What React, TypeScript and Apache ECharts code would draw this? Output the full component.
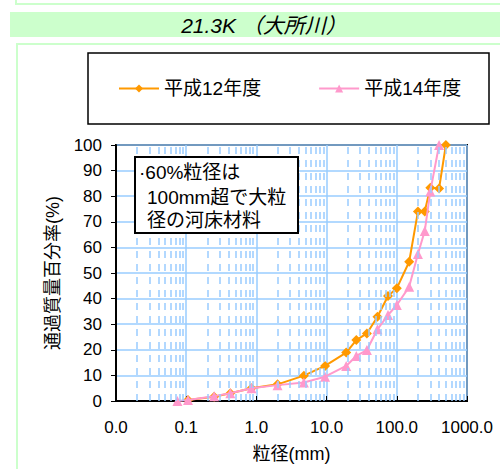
import React, { useEffect, useRef } from "react";
import * as echarts from "echarts";

// 平成12年度 (orange)
const sieve12 = [0.106, 0.25, 0.425, 0.85, 2, 4.75, 9.5, 19, 26.5, 37.5, 53, 75, 100, 150, 200, 250, 300, 400, 500];
const pass12 = [0.4, 1.7, 3.0, 5.0, 6.5, 9.9, 13.7, 18.9, 23.8, 26.4, 32.9, 41.0, 44.0, 54.4, 74.0, 74.0, 83.3, 83.0, 100];
// 平成14年度 (pink)
const sieve14 = [0.075, 0.106, 0.25, 0.425, 0.85, 2, 4.75, 9.5, 19, 26.5, 37.5, 53, 75, 100, 150, 200, 250, 300, 400];
const pass14 = [0.0, 0.4, 1.9, 3.0, 5.0, 6.2, 7.2, 9.5, 13.7, 17.6, 19.9, 28.0, 33.6, 37.5, 44.6, 57.4, 66.4, 81.8, 100];

const seriesNames = ["平成12年度", "平成14年度"];
const titleText = "21.3K （大所川）";
const noteLines = ["·60%粒径は", "100mm超で大粒", "径の河床材料"];
const xAxisName = "粒径(mm)";
const yAxisName = "通過質量百分率(%)";
const decades = [0.01, 0.1, 1, 10, 100];
const minorMultipliers = [2, 3, 4, 5, 6, 7, 8, 9];

const FONT = "'Liberation Sans', Arial, 'Noto Sans CJK JP', sans-serif";

export default function App() {
  const ref = useRef<HTMLDivElement>(null);
  useEffect(() => {
    if (!ref.current) return;
    const chart = echarts.init(ref.current, undefined, { renderer: "svg" });
    const minorX: number[] = [];
    decades.forEach((d) => minorMultipliers.forEach((m) => minorX.push(+(d * m).toPrecision(3))));
    const green = "#ccffcc";
    const grid = "#99ccff";
    chart.setOption({
      animation: false,
      backgroundColor: "#ffffff",
      textStyle: { fontFamily: FONT },
      grid: { left: 116, top: 145, right: 33, bottom: 68, show: true, borderColor: "#000", borderWidth: 2, containLabel: false },
      legend: {
        data: [
          { name: seriesNames[0] },
          { name: seriesNames[1] },
        ],
        left: 118,
        top: 79,
        padding: 0,
        itemWidth: 40,
        itemHeight: 10,
        itemGap: 57,
        textStyle: { fontSize: 19, color: "#000", fontFamily: FONT },
      },
      xAxis: {
        type: "log",
        logBase: 10,
        min: 0.01,
        max: 1000,
        name: xAxisName,
        nameLocation: "middle",
        nameGap: 44,
        nameTextStyle: { fontSize: 18, color: "#000", fontFamily: FONT },
        axisLine: { show: true, lineStyle: { color: "#000", width: 2 } },
        axisTick: { show: true, inside: true, length: 5, lineStyle: { color: "#000", width: 1 } },
        axisLabel: { color: "#000", fontSize: 17, margin: 18, formatter: (v: number) => v.toFixed(1) },
        splitLine: { show: true, lineStyle: { color: grid, width: 1.5 } },
      },
      yAxis: {
        type: "value",
        min: 0,
        max: 100,
        interval: 10,
        name: yAxisName,
        nameLocation: "middle",
        nameGap: 54,
        nameTextStyle: { fontSize: 18, color: "#000", fontFamily: FONT },
        axisLine: { show: true, lineStyle: { color: "#000", width: 2 } },
        axisTick: { show: true, inside: false, length: 5, lineStyle: { color: "#000", width: 1 } },
        axisLabel: { color: "#000", fontSize: 17, margin: 14 },
        splitLine: { show: true, lineStyle: { color: grid, width: 1.5 } },
      },
      series: [
        {
          name: "minor",
          type: "line",
          data: [],
          z: 1,
          silent: true,
          markLine: {
            silent: true,
            symbol: ["none", "none"],
            label: { show: false },
            lineStyle: { type: [7, 6], color: grid, width: 1.5 },
            data: minorX.map((v) => ({ xAxis: v })),
          },
        },
        {
          name: seriesNames[0],
          type: "line",
          data: sieve12.map((s, i) => [s, pass12[i]]),
          symbol: "diamond",
          symbolSize: 10,
          z: 3,
          lineStyle: { color: "#ff9900", width: 2 },
          itemStyle: { color: "#ff9900" },
        },
        {
          name: seriesNames[1],
          type: "line",
          data: sieve14.map((s, i) => [s, pass14[i]]),
          symbol: "triangle",
          symbolSize: 10,
          z: 4,
          lineStyle: { color: "#ff99cc", width: 2 },
          itemStyle: { color: "#ff99cc" },
        },
      ],
      graphic: [
        { type: "polyline", shape: { points: [[16, 0], [16, 4], [500, 4]] }, style: { stroke: green, lineWidth: 2, fill: "none" }, z: 0 },
        { type: "rect", shape: { x: 10, y: 12, width: 490, height: 25 }, style: { fill: green }, z: 0 },
        {
          type: "text",
          x: 264,
          y: 25,
          style: { text: titleText, fontSize: 21, fontStyle: "italic", fontFamily: FONT, fill: "#000", align: "center", verticalAlign: "middle" },
          z: 1,
        },
        { type: "rect", shape: { x: 17, y: 44, width: 500, height: 500 }, style: { stroke: green, lineWidth: 2, fill: "none" }, z: 0 },
        { type: "rect", shape: { x: 88, y: 53, width: 401, height: 71 }, style: { stroke: "#000", lineWidth: 1.5, fill: "none" }, z: 0 },
        { type: "rect", z: 100, shape: { x: 135, y: 157, width: 163, height: 76 }, style: { stroke: "#000", lineWidth: 2, fill: "#fff" } },
        { type: "text", z: 101, x: 139, y: 172, style: { text: noteLines[0], fontSize: 19, fontFamily: FONT, fill: "#000", verticalAlign: "middle" } },
        { type: "text", z: 101, x: 147, y: 197, style: { text: noteLines[1], fontSize: 19, fontFamily: FONT, fill: "#000", verticalAlign: "middle" } },
        { type: "text", z: 101, x: 147, y: 220, style: { text: noteLines[2], fontSize: 19, fontFamily: FONT, fill: "#000", verticalAlign: "middle" } },
      ],
    });
    return () => chart.dispose();
  }, []);
  return <div ref={ref} style={{ position: "fixed", left: 0, top: 0, width: 500, height: 469 }} />;
}
